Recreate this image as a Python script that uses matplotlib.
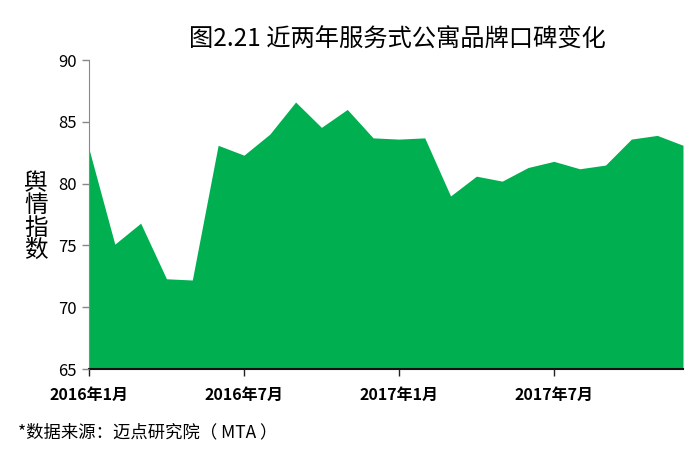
import matplotlib
matplotlib.use('Agg')
import matplotlib.pyplot as plt

plt.rcParams['font.family'] = ['Noto Sans CJK SC', 'DejaVu Sans']

months = ['2016年1月', '2016年2月', '2016年3月', '2016年4月', '2016年5月', '2016年6月',
          '2016年7月', '2016年8月', '2016年9月', '2016年10月', '2016年11月', '2016年12月',
          '2017年1月', '2017年2月', '2017年3月', '2017年4月', '2017年5月', '2017年6月',
          '2017年7月', '2017年8月', '2017年9月', '2017年10月', '2017年11月', '2017年12月']
index = [82.8, 75.1, 76.8, 72.3, 72.2, 83.1, 82.3, 84.0, 86.6, 84.55, 86.0, 83.7,
         83.6, 83.7, 79.0, 80.6, 80.2, 81.3, 81.8, 81.2, 81.5, 83.6, 83.9, 83.1]
yticks = [65, 70, 75, 80, 85, 90]
shown = ['2016年1月', '2016年7月', '2017年1月', '2017年7月']

fig = plt.figure(figsize=(6.93, 4.51), dpi=100)
ax = fig.add_axes([89 / 693, 1 - 369 / 451, 594 / 693, 309 / 451])

x = list(range(len(months)))
ax.fill_between(x, index, 65, color='#00B050', linewidth=0)

ax.set_xlim(0, len(months) - 1)
ax.set_ylim(65, 90)
ax.set_yticks(yticks)
ax.set_xticks([months.index(m) for m in shown])
ax.set_xticklabels(shown, fontsize=11.5, fontweight='bold')
ax.tick_params(axis='y', labelsize=12, length=5, width=1, color='#888888', pad=4)
ax.tick_params(axis='x', length=5, width=1, color='#222222', pad=8)

for s in ['top', 'right']:
    ax.spines[s].set_visible(False)
ax.spines['left'].set_color('#888888')
ax.spines['bottom'].set_color('#111111')
ax.spines['bottom'].set_linewidth(1.5)
ax.set_axisbelow(False)

fig.text(397 / 693, 1 - 40 / 451, '图2.21 近两年服务式公寓品牌口碑变化',
         ha='center', va='center', fontsize=17.5)
fig.text(36 / 693, 1 - 217 / 451, '\n'.join('舆情指数'), ha='center', va='center',
         fontsize=17, linespacing=0.95)
fig.text(18 / 693, 1 - 432 / 451, '*数据来源：迈点研究院（ MTA ）', ha='left', va='center',
         fontsize=12.5)

fig.savefig('out.png', dpi=100)
